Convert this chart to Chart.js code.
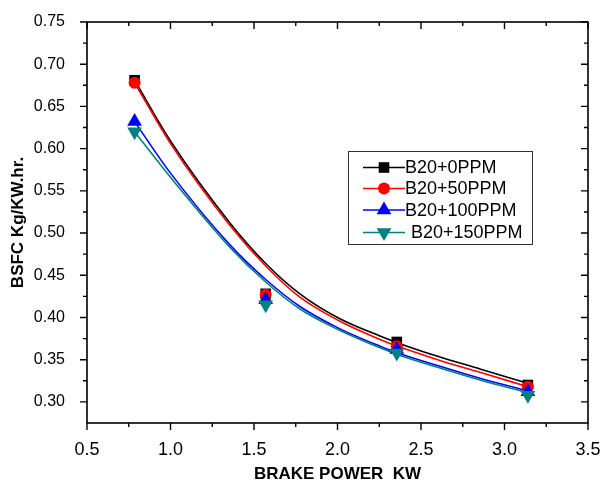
<!DOCTYPE html>
<html lang="en">
<head>
<meta charset="UTF-8">
<title>BSFC vs Brake Power</title>
<script src="https://cdn.jsdelivr.net/npm/chart.js@4.4.0/dist/chart.umd.min.js"></script>
<style>
  html, body { margin: 0; padding: 0; background: #fff; }
  #wrap { width: 603px; height: 483px; }
</style>
</head>
<body>
<div id="wrap"><canvas id="bsfcChart"></canvas></div>
<script>
// measured points
const loadX = [0.785, 1.57, 2.355, 3.14];
const bsfc0   = [0.681, 0.428, 0.371, 0.320];
const bsfc50  = [0.678, 0.427, 0.366, 0.318];
const bsfc100 = [0.632, 0.421, 0.362, 0.312];
const bsfc150 = [0.620, 0.415, 0.358, 0.308];

// fitted curves
const fitX   = [0.785, 1.0, 1.356, 1.57, 1.775, 2.0, 2.254, 2.374, 2.6, 2.853, 3.14];
const fit0   = [0.681, 0.609, 0.512, 0.464, 0.428, 0.400, 0.378, 0.369, 0.354, 0.339, 0.322];
const fit50  = [0.678, 0.606, 0.509, 0.461, 0.424, 0.397, 0.374, 0.365, 0.350, 0.335, 0.318];
const fit100 = [0.632, 0.571, 0.486, 0.445, 0.413, 0.388, 0.366, 0.357, 0.343, 0.328, 0.313];
const fit150 = [0.620, 0.566, 0.483, 0.442, 0.410, 0.386, 0.364, 0.355, 0.341, 0.326, 0.311];

const seriesNames = ["B20+0PPM", "B20+50PPM", "B20+100PPM", "B20+150PPM"];
const xTicks = [0.5, 1.0, 1.5, 2.0, 2.5, 3.0, 3.5];
const yTicks = [0.30, 0.35, 0.40, 0.45, 0.50, 0.55, 0.60, 0.65, 0.70, 0.75];

const colors = ["#000000", "#ff0000", "#0000ff", "#008080"];
const FONT = "'Liberation Sans', Arial, sans-serif";

const pairs = (xs, ys) => xs.map((x, i) => ({ x: x, y: ys[i] }));

function markerPath(ctx, kind, x, y) {
  ctx.beginPath();
  if (kind === 0) {
    ctx.rect(x - 5.3, y - 5.3, 10.6, 10.6);
  } else if (kind === 1) {
    ctx.arc(x, y, 6, 0, Math.PI * 2);
  } else if (kind === 2) {
    ctx.moveTo(x, y - 8.5);
    ctx.lineTo(x + 7.4, y + 4.2);
    ctx.lineTo(x - 7.4, y + 4.2);
    ctx.closePath();
  } else {
    ctx.moveTo(x, y + 8.5);
    ctx.lineTo(x + 7.4, y - 4.2);
    ctx.lineTo(x - 7.4, y - 4.2);
    ctx.closePath();
  }
}

// box, ticks (minor too) and the legend
const framePlugin = {
  id: "frame",
  afterDraw(chart) {
    const ctx = chart.ctx;
    const a = chart.chartArea;
    const xs = chart.scales.x, ys = chart.scales.y;
    ctx.save();
    ctx.strokeStyle = "#000";
    ctx.lineWidth = 1.6;
    ctx.strokeRect(a.left, a.top, a.right - a.left, a.bottom - a.top);

    ctx.lineWidth = 1.4;
    ctx.beginPath();
    for (let v = 0.5; v <= 3.5001; v += 0.25) {
      const px = xs.getPixelForValue(v);
      const len = Math.abs(v * 2 - Math.round(v * 2)) < 0.01 ? 7 : 4;
      ctx.moveTo(px, a.bottom); ctx.lineTo(px, a.bottom + len);
      ctx.moveTo(px, a.top); ctx.lineTo(px, a.top + len);
    }
    for (let v = 0.30; v <= 0.7501; v += 0.025) {
      const py = ys.getPixelForValue(v);
      const len = Math.abs(v * 20 - Math.round(v * 20)) < 0.01 ? 7 : 4;
      ctx.moveTo(a.left, py); ctx.lineTo(a.left - len, py);
      ctx.moveTo(a.right, py); ctx.lineTo(a.right - len, py);
    }
    ctx.stroke();

    // legend box
    const bx = 348, by = 151, bw = 184, bh = 93;
    ctx.lineWidth = 1;
    ctx.strokeStyle = "#333";
    ctx.strokeRect(bx + 0.5, by + 0.5, bw, bh);
    const rowsY = [167.5, 188.5, 210, 232.5];
    ctx.font = "18px " + FONT;
    ctx.textBaseline = "middle";
    ctx.textAlign = "left";
    seriesNames.forEach((name, i) => {
      const y = rowsY[i];
      ctx.strokeStyle = colors[i];
      ctx.lineWidth = 1.5;
      ctx.beginPath();
      ctx.moveTo(363, y); ctx.lineTo(405, y);
      ctx.stroke();
      ctx.fillStyle = colors[i];
      markerPath(ctx, i, 384, y);
      ctx.fill();
      ctx.fillStyle = "#000";
      ctx.fillText(name, i === 3 ? 411 : 405, y + 1);
    });
    ctx.restore();
  }
};

const curveSets = [fit0, fit50, fit100, fit150].map((ys, i) => ({
  data: pairs(fitX, ys),
  showLine: true,
  borderColor: colors[i],
  borderWidth: 1.6,
  pointRadius: 0,
  cubicInterpolationMode: "monotone",
  order: 8 - i
}));

const markerStyles = [
  { pointStyle: "rect", radius: 7.5, rotation: 0 },
  { pointStyle: "circle", radius: 6, rotation: 0 },
  { pointStyle: "triangle", radius: 8.5, rotation: 0 },
  { pointStyle: "triangle", radius: 8.5, rotation: 180 }
];

const markerSets = [bsfc0, bsfc50, bsfc100, bsfc150].map((ys, i) => ({
  data: pairs(loadX, ys),
  showLine: false,
  pointStyle: markerStyles[i].pointStyle,
  pointRadius: markerStyles[i].radius,
  pointRotation: markerStyles[i].rotation,
  pointBackgroundColor: colors[i],
  pointBorderColor: colors[i],
  pointBorderWidth: 0,
  order: 4 - i
}));

new Chart(document.getElementById("bsfcChart"), {
  type: "scatter",
  data: { datasets: curveSets.concat(markerSets) },
  plugins: [framePlugin],
  options: {
    responsive: true,
    maintainAspectRatio: false,
    animation: false,
    layout: { padding: { top: 22, right: 15, left: 0, bottom: 0 } },
    plugins: { legend: { display: false }, tooltip: { enabled: false } },
    scales: {
      x: {
        min: 0.5, max: 3.5,
        grid: { display: false },
        border: { display: false },
        afterBuildTicks: (s) => { s.ticks = xTicks.map(v => ({ value: v })); },
        afterFit: (s) => { s.height = 60; s.paddingRight = 0; s.paddingLeft = 0; },
        ticks: {
          padding: 8,
          color: "#000",
          font: { family: FONT, size: 18 },
          callback: (v) => Number(v).toFixed(1)
        },
        title: {
          display: true,
          text: "BRAKE POWER  KW",
          color: "#000",
          font: { family: FONT, size: 17, weight: "bold" },
          padding: { top: 0, bottom: -2 }
        }
      },
      y: {
        min: 0.275, max: 0.75,
        grid: { display: false },
        border: { display: false },
        afterBuildTicks: (s) => { s.ticks = yTicks.map(v => ({ value: v })); },
        afterFit: (s) => { s.width = 87; s.paddingTop = 0; s.paddingBottom = 0; },
        ticks: {
          padding: 14,
          color: "#000",
          font: { family: FONT, size: 16 },
          callback: (v) => Number(v).toFixed(2)
        },
        title: {
          display: true,
          text: "BSFC Kg/KW.hr.",
          color: "#000",
          font: { family: FONT, size: 17, weight: "bold" },
          padding: { top: 8, bottom: 0 }
        }
      }
    }
  }
});
</script>
</body>
</html>
